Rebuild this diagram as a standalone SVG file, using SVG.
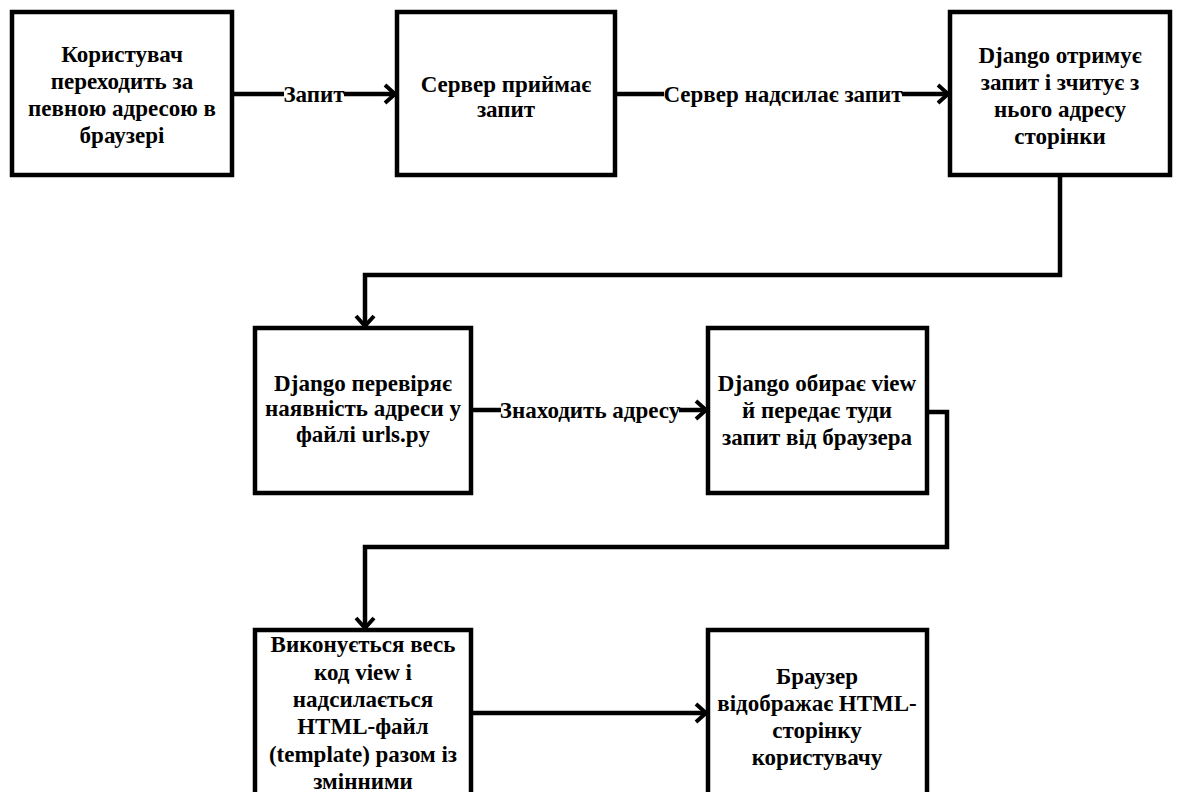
<svg xmlns="http://www.w3.org/2000/svg" width="1178" height="792" viewBox="0 0 1178 792">
<defs>
<style>
.box{fill:#fff;stroke:#000;stroke-width:4.5}
.ln{fill:none;stroke:#000;stroke-width:4.5}
.t{font-family:"Liberation Serif","Times New Roman",serif;font-weight:bold;font-size:23px;fill:#000;text-anchor:middle}
.lb{fill:#fff}
</style>
<marker id="arr" viewBox="0 0 16 24" refX="14" refY="12" markerWidth="16" markerHeight="24" markerUnits="userSpaceOnUse" orient="auto">
<path d="M3,3 L13,12 L3,21" fill="none" stroke="#000" stroke-width="4"/>
</marker>
</defs>
<rect width="1178" height="792" fill="#fff"/>
<g id="connectors">
<path class="ln" d="M232,94 H396" marker-end="url(#arr)"/>
<path class="ln" d="M615,94 H949" marker-end="url(#arr)"/>
<path class="ln" d="M1060,175 V275 H365 V327" marker-end="url(#arr)"/>
<path class="ln" d="M471,410 H707" marker-end="url(#arr)"/>
<path class="ln" d="M927,412 H947 V547 H365 V629" marker-end="url(#arr)"/>
<path class="ln" d="M471,713 H707" marker-end="url(#arr)"/>
<rect class="lb" x="284" y="82" width="60" height="24"/>
<text class="t" x="314" y="102">Запит</text>
<rect class="lb" x="664" y="82" width="238" height="24"/>
<text class="t" x="783" y="102">Сервер надсилає запит</text>
<rect class="lb" x="501" y="398" width="178" height="24"/>
<text class="t" x="590" y="418">Знаходить адресу</text>
</g>
<g id="n1">
<rect class="box" x="12" y="12" width="220" height="163"/>
<text class="t" x="122" y="62">Користувач</text>
<text class="t" x="122" y="89">переходить за</text>
<text class="t" x="122" y="116">певною адресою в</text>
<text class="t" x="122" y="143">браузері</text>
</g>
<g id="n2">
<rect class="box" x="397" y="12" width="218" height="163"/>
<text class="t" x="506" y="92">Сервер приймає</text>
<text class="t" x="506" y="117">запит</text>
</g>
<g id="n3">
<rect class="box" x="950" y="12" width="220" height="163"/>
<text class="t" x="1060" y="63">Django отримує</text>
<text class="t" x="1060" y="90">запит і зчитує з</text>
<text class="t" x="1060" y="117">нього адресу</text>
<text class="t" x="1060" y="144">сторінки</text>
</g>
<g id="n4">
<rect class="box" x="255" y="328" width="216" height="165"/>
<text class="t" x="363" y="391">Django перевіряє</text>
<text class="t" x="363" y="416">наявність адреси у</text>
<text class="t" x="363" y="442">файлі urls.py</text>
</g>
<g id="n5">
<rect class="box" x="708" y="328" width="219" height="165"/>
<text class="t" x="817" y="391">Django обирає view</text>
<text class="t" x="817" y="418">й передає туди</text>
<text class="t" x="817" y="445">запит від браузера</text>
</g>
<g id="n6">
<rect class="box" x="255" y="630" width="216" height="170"/>
<text class="t" x="363" y="652">Виконується весь</text>
<text class="t" x="363" y="680">код view і</text>
<text class="t" x="363" y="707">надсилається</text>
<text class="t" x="363" y="734">HTML-файл</text>
<text class="t" x="363" y="762">(template) разом із</text>
<text class="t" x="363" y="789">змінними</text>
</g>
<g id="n7">
<rect class="box" x="708" y="630" width="219" height="170"/>
<text class="t" x="817" y="684">Браузер</text>
<text class="t" x="817" y="711">відображає HTML-</text>
<text class="t" x="817" y="738">сторінку</text>
<text class="t" x="817" y="765">користувачу</text>
</g>
</svg>
